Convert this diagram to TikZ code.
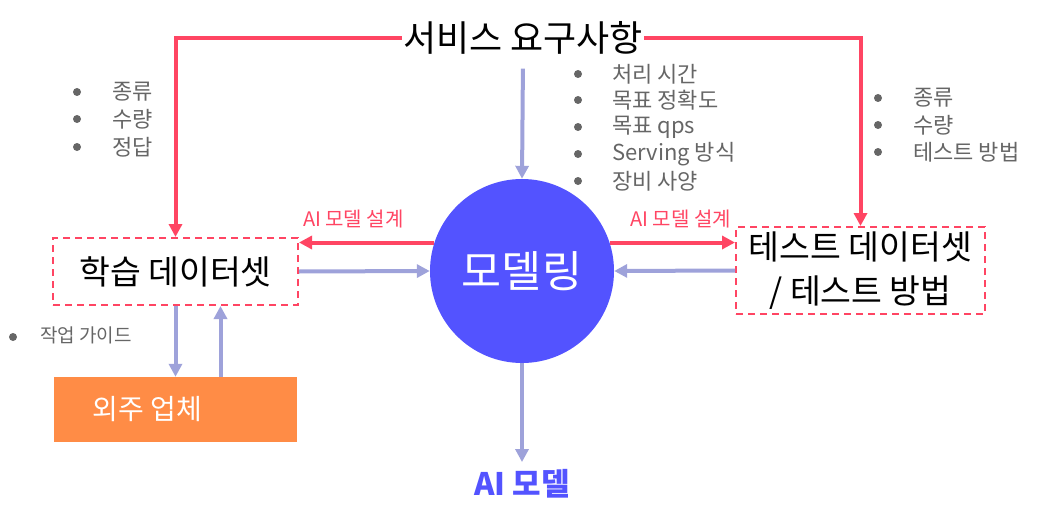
\documentclass[tikz,border=0pt]{standalone}
\usepackage{fontspec}
\setmainfont{Noto Sans CJK KR}
\usetikzlibrary{positioning,arrows.meta,calc}
\definecolor{reqred}{HTML}{FF4563}
\definecolor{flowblue}{HTML}{9EA2DA}
\definecolor{modelblue}{HTML}{5353FF}
\definecolor{vendororange}{HTML}{FF8C46}
\definecolor{notegray}{HTML}{666666}
\tikzset{
  reqline/.style={reqred, line width=4pt, -{Triangle[length=13pt,width=13pt]}},
  flowline/.style={flowblue, line width=4pt, -{Triangle[length=13pt,width=13pt]}},
  dataset/.style={draw=reqred, dash pattern=on 7pt off 5pt, line width=2pt, minimum width=245pt, minimum height=67pt, align=center, font=\fontsize{33.5}{44}\selectfont},
  note/.style={text=notegray, font=\fontsize{22}{24}\selectfont, anchor=west, inner sep=0pt},
  notedot/.style={fill=notegray, circle, inner sep=0pt, minimum size=8pt},
  design/.style={text=reqred, font=\fontsize{20}{22}\selectfont, inner sep=2pt}
}
\begin{document}
\begin{tikzpicture}[x=1pt,y=-1pt]
    \useasboundingbox (0,0) rectangle (1048,516);

    % Service requirements
    \node[inner xsep=1pt, inner ysep=4pt, font=\fontsize{36}{42}\selectfont] (req) at (523,38) {서비스 요구사항};

    % Modeling
    \node[circle, fill=modelblue, minimum size=184pt, text=white, font=\fontsize{43.5}{50}\selectfont] (model) at (522,271) {모델링};

    % Datasets and vendor
    \node[dataset] (train) at (175.5,271.5) {학습 데이터셋};
    \node[dataset, minimum width=249pt, minimum height=87pt] (test) at (860.5,270.5) {테스트 데이터셋\\/ 테스트 방법};
    \node[fill=vendororange, minimum width=243pt, minimum height=65pt] (vendor) at (175.5,409.5) {};
    \node[text=white, font=\fontsize{28}{32}\selectfont] (vendortext) at ([xshift=-28pt]vendor.center) {외주 업체};

    % Result
    \node[text=modelblue, font=\bfseries\fontsize{31}{36}\selectfont] (aimodel) at (522,484) {AI 모델};

    % Requirement lines
    \draw[reqline] (req.west) -| (train.north);
    \draw[reqline] (req.east) -| (test.north);
    \draw[flowline, shorten <=10pt] (req.south) -- (model.north);

    % Model design
    \draw[reqline] (model.162) -- (model.162 -| train.east) node[design, pos=1, above right=10pt and 0pt] {AI 모델 설계};
    \draw[reqline] (model.18) -- (model.18 -| test.west) node[design, pos=1, above left=10pt and 0pt] {AI 모델 설계};
    \draw[flowline] (train.east) -- (model.west);
    \draw[flowline] (test.west) -- (model.east);

    % Outsourcing
    \draw[flowline] (train.south) -- (train.south |- vendor.north);
    \draw[flowline] ([xshift=45pt]vendor.north) -- ([xshift=45pt]vendor.north |- train.south);
    \draw[flowline, shorten >=4pt] (model.south) -- (aimodel.north);

    % Notes
    \foreach \txt/\y [count=\i] in {종류/92, 수량/119, 정답/147} {
        \node[notedot] (ldot\i) at (77,\y) {};
        \node[note] (lnote\i) at (112,\y) {\txt};
    }
    \foreach \txt/\y [count=\i] in {처리 시간/74, 목표 정확도/100, 목표 qps/127, Serving 방식/154, 장비 사양/181} {
        \node[notedot] (mdot\i) at (578,\y) {};
        \node[note] (mnote\i) at (612,\y) {\txt};
    }
    \foreach \txt/\y [count=\i] in {종류/98, 수량/125, 테스트 방법/152} {
        \node[notedot] (rdot\i) at (878,\y) {};
        \node[note] (rnote\i) at (913,\y) {\txt};
    }
    \node[notedot] (gdot) at (13,337) {};
    \node[note, font=\fontsize{19}{22}\selectfont] (guide) at (40,335) {작업 가이드};
\end{tikzpicture}
\end{document}
